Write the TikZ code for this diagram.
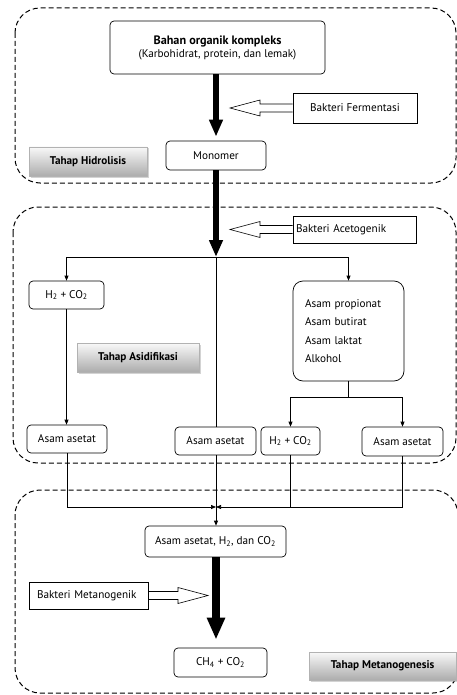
\documentclass[tikz,border=0pt]{standalone}
\usepackage{fontspec}
\setmainfont{PT Sans}
\usetikzlibrary{arrows.meta,calc,shadows}

% hollow bacteria arrow: #1 start anchor, #2 tip
\newcommand{\openarrow}[2]{%
  \draw[line width=0.6pt] let \p1=(#1), \p2=(#2), \n1={sign(\x1-\x2)} in
    (\x1,\y1+4pt) -- (\x2+\n1*30pt,\y1+4pt) -- (\x2+\n1*30pt,\y1+8pt) -- (\x2,\y1)
    -- (\x2+\n1*30pt,\y1-8pt) -- (\x2+\n1*30pt,\y1-4pt) -- (\x1,\y1-4pt);}

\begin{document}
\begin{tikzpicture}[x=1pt, y=1pt,
  every node/.style={font=\fontsize{11.2}{13}\selectfont},
  box/.style={draw, rounded corners=4pt, line width=0.7pt, align=center, inner sep=2pt},
  bact/.style={draw, line width=0.7pt, inner sep=3pt, align=left},
  stage/.style={draw=gray!60, top color=gray!5, bottom color=gray!65, font=\fontsize{11.2}{13}\selectfont\bfseries, drop shadow={shadow xshift=1.5pt, shadow yshift=-1.5pt, opacity=0.35}, minimum height=29pt},
  region/.style={dash pattern=on 5pt off 3pt, line width=1pt, rounded corners=25pt},
  thickarr/.style={line width=6pt, -{Triangle[length=17pt, width=13pt]}},
  bigarr/.style={line width=8pt, -{Triangle[length=22pt, width=17pt]}},
  flow/.style={line width=0.7pt, -{Triangle[length=5pt, width=4pt]}}]
  \useasboundingbox (0,0) rectangle (457,-695);

  % the three stages
  \draw[region] (15,-8) rectangle (456,-183);
  \draw[region] (13,-207) rectangle (456,-463);
  \draw[region] (15,-490) rectangle (458,-693);

  \node[box, minimum width=215pt, minimum height=53pt] (bahan) at (217.5,-47.5) {{\fontsize{12.2}{14}\selectfont\bfseries Bahan organik kompleks}\\(Karbohidrat, protein, dan lemak)};
  \node[bact, minimum width=124pt, minimum height=30pt, align=center] (fer) at (355,-108) {Bakteri Fermentasi};
  \node[box, minimum width=100pt, minimum height=29pt] (mono) at (216,-155.5) {Monomer};
  \node[stage, minimum width=118pt] (hidro) at (88,-161.5) {Tahap Hidrolisis};

  \node[bact, text width=117pt, minimum height=27pt] (aceto) at (354.5,-229.5) {Bakteri Acetogenik};
  \node[box, minimum width=75pt, minimum height=28pt] (h2a) at (66.5,-295) {H\textsubscript{2} + CO\textsubscript{2}};
  \node[stage, minimum width=122pt] (asid) at (138,-357.5) {Tahap Asidifikasi};
  \node[box, rounded corners=10pt, text width=87pt, inner xsep=12pt, minimum height=100pt, align=left, font=\fontsize{11.2}{18.5}\selectfont] (prop) at (348.5,-331) {Asam propionat\\Asam butirat\\Asam laktat\\Alkohol};
  \node[box, minimum width=80pt, minimum height=28pt] (asa) at (67,-439) {Asam asetat};
  \node[box, minimum width=81pt, minimum height=28pt] (asm) at (215.5,-441) {Asam asetat};
  \node[box, minimum width=59pt, minimum height=28pt] (h2b) at (290.5,-441) {H\textsubscript{2} + CO\textsubscript{2}};
  \node[box, minimum width=81pt, minimum height=29pt] (asb) at (402.5,-441.5) {Asam asetat};

  \node[box, minimum width=141pt, minimum height=31pt] (mix) at (215.5,-541.5) {Asam asetat, H\textsubscript{2}, dan CO\textsubscript{2}};
  \node[bact, text width=103pt, inner xsep=8pt, minimum height=27pt] (meta) at (88.5,-595.5) {Bakteri Metanogenik};
  \node[box, minimum width=93pt, minimum height=29pt] (ch4) at (220.5,-662.5) {CH\textsubscript{4} + CO\textsubscript{2}};
  \node[stage, minimum width=147pt, minimum height=28pt] (metag) at (382.5,-666) {Tahap Metanogenesis};

  \coordinate (tipF) at (230,-108);
  \coordinate (tipA) at (230,-229.5);
  \coordinate (tipM) at (208,-595.5);
  \coordinate (jn) at (216,-257);
  \coordinate (sp) at (348.5,-397);
  \coordinate (mg) at (216,-507);

  \draw[thickarr, shorten >=4pt] (bahan.south -| mono) -- (mono);
  \draw[thickarr] (mono) -- (jn);
  \draw[flow] (jn) -| (h2a);
  \draw[flow] (jn) -| (prop);
  \draw[line width=0.7pt] (jn) -- (jn |- asm.north);
  \draw[flow] (h2a.south) -- (h2a.south |- asa.north);
  \draw[line width=0.7pt] (prop) -- (sp);
  \draw[flow] (sp) -| (h2b);
  \draw[flow] (sp) -| (asb);
  \draw[flow] (asa) |- (mg);
  \draw[flow] (asb) |- (mg);
  \draw[line width=0.7pt] (h2b) -- (h2b |- mg);
  \draw[flow] (asm.south -| jn) -- (mix.north -| jn);
  \draw[bigarr, shorten >=8pt] (mix.south -| mg) -- (ch4.north -| mg);

  \openarrow{fer.west}{tipF}
  \openarrow{aceto.west}{tipA}
  \openarrow{meta.east}{tipM}
\end{tikzpicture}
\end{document}
